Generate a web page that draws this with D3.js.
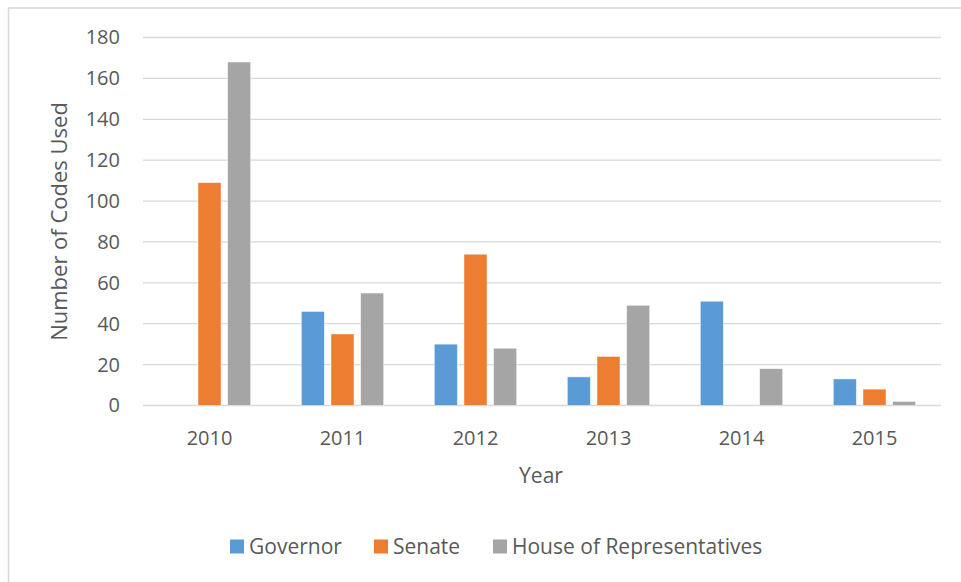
<!DOCTYPE html>
<html>
<head>
<meta charset="utf-8">
<script src="https://cdn.jsdelivr.net/npm/d3@7"></script>
<style>
  html, body { margin: 0; padding: 0; background: #fff; }
  svg { display: block; font-family: "Open Sans", "Noto Sans", sans-serif; }
</style>
</head>
<body>
<svg id="chart" width="961" height="582"></svg>
<script>
// Codes used per year, by chamber
const years = ["2010", "2011", "2012", "2013", "2014", "2015"];
const seriesNames = ["Governor", "Senate", "House of Representatives"];
const governor = [0, 46, 30, 14, 51, 13];
const senate = [109, 35, 74, 24, 0, 8];
const house = [168, 55, 28, 49, 18, 2];
const yTicks = [0, 20, 40, 60, 80, 100, 120, 140, 160, 180];
const colors = ["#5b9bd5", "#ed7d31", "#a5a5a5"];

const seriesValues = [governor, senate, house];
const FONT = "'Open Sans', 'Noto Sans', sans-serif";
const TEXT = "#595959";

const svg = d3.select("#chart");
const plot = { left: 143, right: 941, top: 37.5, bottom: 405.5 };

// outer chart frame (left and top edges visible)
svg.append("path")
  .attr("d", `M8.5,585 V8 H965`)
  .attr("fill", "none")
  .attr("stroke", "#d9d9d9")
  .attr("stroke-width", 1.5);

const x = d3.scaleBand().domain(years).range([plot.left, plot.right]);
const y = d3.scaleLinear().domain([0, 180]).range([plot.bottom, plot.top]);

// horizontal gridlines
svg.append("g")
  .selectAll("line")
  .data(yTicks)
  .join("line")
  .attr("x1", plot.left).attr("x2", plot.right)
  .attr("y1", d => y(d)).attr("y2", d => y(d))
  .attr("stroke", "#d9d9d9")
  .attr("stroke-width", 1.3);

// y axis tick labels
const yAxis = d3.axisLeft(y).tickValues(yTicks).tickSize(0).tickPadding(0);
const gy = svg.append("g").attr("transform", "translate(120,0)").call(yAxis);
gy.select(".domain").remove();
gy.selectAll("text")
  .attr("fill", TEXT)
  .style("font-size", "20px")
  .style("font-family", FONT);

// x axis tick labels
const xAxis = d3.axisBottom(x).tickSize(0).tickPadding(0);
const gx = svg.append("g").attr("transform", `translate(0,${plot.bottom})`).call(xAxis);
gx.select(".domain").remove();
gx.selectAll("text")
  .attr("y", 39.5)
  .attr("dy", null)
  .attr("fill", TEXT)
  .style("font-size", "20px")
  .style("font-family", FONT);

// grouped bars
const bw = x.bandwidth();
const barW = bw * 0.173;
const step = bw * 0.223;
const inner = d3.scaleBand().domain(seriesNames)
  .range([bw / 2 - step - barW / 2, bw / 2 + step + barW / 2])
  .paddingInner((step - barW) / step);

seriesNames.forEach((name, si) => {
  svg.append("g")
    .selectAll("rect")
    .data(years.map((yr, i) => ({ yr, v: seriesValues[si][i] })).filter(d => d.v > 0))
    .join("rect")
    .attr("x", d => x(d.yr) + inner(name))
    .attr("width", inner.bandwidth())
    .attr("y", d => y(d.v))
    .attr("height", d => y(0) - y(d.v))
    .attr("fill", colors[si])
    .attr("stroke", "#ffffff")
    .attr("stroke-opacity", 0.6)
    .attr("stroke-width", 0.75);
});

// axis titles
svg.append("text")
  .attr("transform", `translate(67,${(plot.top + plot.bottom) / 2}) rotate(-90)`)
  .attr("text-anchor", "middle")
  .attr("fill", TEXT)
  .style("font-size", "22px")
  .text("Number of Codes Used");

svg.append("text")
  .attr("x", 541)
  .attr("y", 483)
  .attr("text-anchor", "middle")
  .attr("fill", TEXT)
  .style("font-size", "21px")
  .text("Year");

// legend
const legendX = [230, 374, 493];
const legend = svg.append("g");
seriesNames.forEach((name, i) => {
  legend.append("rect")
    .attr("x", legendX[i]).attr("y", 539.5)
    .attr("width", 14).attr("height", 14)
    .attr("fill", colors[i]);
  legend.append("text")
    .attr("x", legendX[i] + 19).attr("y", 554)
    .attr("fill", TEXT)
    .style("font-size", "21px")
    .text(name);
});
</script>
</body>
</html>
